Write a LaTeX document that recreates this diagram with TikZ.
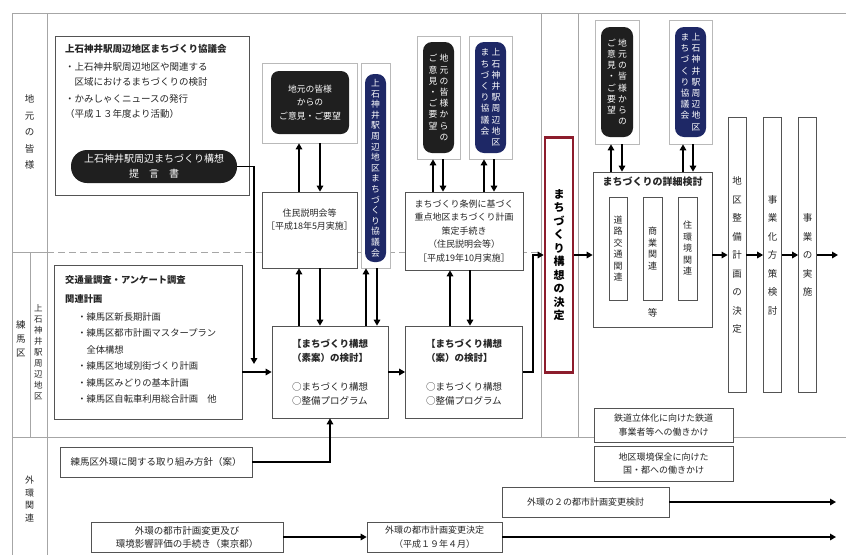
\documentclass[tikz,border=0pt]{standalone}
\usepackage{fontspec}
\setmainfont{Noto Sans CJK JP}
\usetikzlibrary{arrows.meta}
\definecolor{kyogiblue}{RGB}{30,40,102}
\definecolor{decidered}{RGB}{140,28,44}
\makeatletter
\newcommand\tate[2][11pt]{\vtop{\baselineskip=#1\lineskiplimit=-\maxdimen\@tfor\tatechar:=#2\do{\hbox to 1em{\hss\tatechar\hss}}}}
\makeatother

\begin{document}
\begin{tikzpicture}[x=1pt,y=-1pt,
	gridline/.style={draw=gray!70,line width=0.6pt},
	plainbox/.style={draw=gray!65!black,line width=0.7pt,fill=white,inner sep=0pt,align=center,text=black!85,font=\fontsize{9}{13.5}\selectfont},
	rimbox/.style={draw=gray!55,line width=0.7pt,fill=white,inner sep=0pt},
	blackpill/.style={fill=black!88,rounded corners=9pt,text=white,inner sep=0pt,align=center,font=\fontsize{8.8}{13.5}\selectfont},
	navypill/.style={blackpill,fill=kyogiblue},
	decidebox/.style={draw=decidered,line width=2.6pt,fill=white,inner sep=0pt,font=\bfseries\fontsize{11}{14}\selectfont},
	tallbox/.style={plainbox,minimum width=18pt,minimum height=275pt,font=\fontsize{9.5}{12}\selectfont},
	flowarrow/.style={line width=1.8pt,-{Triangle[length=6pt,width=6.5pt]}},
	lbl/.style={inner sep=0pt,text=black!85,font=\fontsize{9.5}{12}\selectfont}
	]
	\fill[white] (0,0) rectangle (846,555);
	\useasboundingbox (0,0) rectangle (846,555);
	
	\draw[gridline] (12,13) -- (846,13);
	\draw[gridline] (12,13) -- (12,555);
	\draw[gridline] (47,13) -- (47,555);
	\draw[gridline] (12,252) -- (47,252);
	\draw[gridline,dash pattern=on 7pt off 4pt] (47,252) -- (541,252);
	\draw[gridline] (30,252) -- (30,437);
	\draw[gridline] (12,437) -- (846,437);
	\draw[gridline] (541,13) -- (541,437);
	\draw[gridline] (578,13) -- (578,437);
	
	\node[lbl] (lbl-jimoto) at (29.5,132) {\tate[16.5pt]{地元の皆様}};
	\node[lbl] (lbl-nerima) at (21,339) {\tate[14pt]{練馬区}};
	\node[lbl,font=\fontsize{8.5}{11}\selectfont] (lbl-kamishaku) at (38.5,352) {\tate[11pt]{上石神井駅周辺地区}};
	\node[lbl,font=\fontsize{9}{11}\selectfont] (lbl-gaikan) at (29.5,499) {\tate[12.5pt]{外環関連}};
	
	% 地元の皆様
	\node[plainbox,minimum width=194pt,minimum height=159pt] (kyogikai) at (152,115.5) {};
	\node[lbl,anchor=north west,align=left,font=\fontsize{9.5}{15}\selectfont] (kyogikai-txt) at (65,44)
		{\textbf{上石神井駅周辺地区まちづくり協議会}\\[3pt]・上石神井駅周辺地区や関連する\\　区域におけるまちづくりの検討\\[2pt]・かみしゃくニュースの発行\\（平成１３年度より活動）};
	\node[blackpill,rounded corners=16pt,minimum width=166pt,minimum height=33pt,font=\fontsize{10}{15}\selectfont] (teigen) at (154,166.5)
		{上石神井駅周辺まちづくり構想\\提　言　書};
	\coordinate (teigen-end) at (254,364);
	
	\node[rimbox,minimum width=95pt,minimum height=80pt] (iken1) at (309.5,103) {};
	\node[blackpill,rounded corners=8pt,minimum width=78pt,minimum height=63pt] (iken1-pill) at (310,102.5) {地元の皆様\\からの\\ご意見・ご要望};
	\node[plainbox,minimum width=95pt,minimum height=76pt] (jumin) at (309.5,230) {住民説明会等\\［平成18年5月実施］\\[8pt]};
	\node[rimbox,minimum width=29pt,minimum height=205pt] (kyogi1) at (375.5,165.5) {};
	\node[navypill,minimum width=21pt,minimum height=188pt] (kyogi1-pill) at (375.5,168) {\tate[10.6pt]{上石神井駅周辺地区まちづくり協議会}};
	
	\node[rimbox,minimum width=43pt,minimum height=123pt] (iken2) at (438.5,97.5) {};
	\node[blackpill,minimum width=31pt,minimum height=111pt] (iken2-pill) at (438.5,97.5) {\tate[11.2pt]{ご意見・ご要望}\hspace{2pt}\tate[11.2pt]{地元の皆様からの}};
	\node[rimbox,minimum width=43pt,minimum height=123pt] (kyogi2) at (490.5,97.5) {};
	\node[navypill,minimum width=31pt,minimum height=111pt] (kyogi2-pill) at (490.5,97.5) {\tate[11.2pt]{まちづくり協議会}\hspace{2pt}\tate[11.2pt]{上石神井駅周辺地区}};
	\node[plainbox,minimum width=118pt,minimum height=78pt] (juten) at (464,231)
		{まちづくり条例に基づく\\重点地区まちづくり計画\\策定手続き\\（住民説明会等）\\［平成19年10月実施］};
	
	% 練馬区
	\node[plainbox,minimum width=188pt,minimum height=154pt] (kotsu) at (148,342) {};
	\node[lbl,anchor=north west,align=left,font=\fontsize{9.3}{16.5}\selectfont] (kotsu-txt) at (65,275)
		{\textbf{交通量調査・アンケート調査}\\[3pt]\textbf{関連計画}\\[1pt]
		\hspace*{1.3em}・練馬区新長期計画\\
		\hspace*{1.3em}・練馬区都市計画マスタープラン\\
		\hspace*{1.3em}　全体構想\\
		\hspace*{1.3em}・練馬区地域別街づくり計画\\
		\hspace*{1.3em}・練馬区みどりの基本計画\\
		\hspace*{1.3em}・練馬区自転車利用総合計画　他};
	\node[plainbox,align=left,minimum width=116pt,minimum height=92pt,font=\fontsize{9.5}{14}\selectfont] (soan) at (330,372)
		{\textbf{【まちづくり構想}\\\textbf{（素案）の検討】}\\[15pt]○まちづくり構想\\○整備プログラム};
	\node[plainbox,align=left,minimum width=117pt,minimum height=92pt,font=\fontsize{9.5}{14}\selectfont] (an) at (464,372)
		{\textbf{【まちづくり構想}\\\textbf{（案）の検討】}\\[15pt]○まちづくり構想\\○整備プログラム};
	
	\node[decidebox,minimum width=28pt,minimum height=235pt] (kettei) at (559,255) {\tate[13.5pt]{まちづくり構想の決定}};
	
	\node[rimbox,minimum width=44pt,minimum height=124pt] (iken3) at (617,82) {};
	\node[blackpill,minimum width=32pt,minimum height=110pt] (iken3-pill) at (617,82) {\tate[11.2pt]{ご意見・ご要望}\hspace{2pt}\tate[11.2pt]{地元の皆様からの}};
	\node[rimbox,minimum width=43pt,minimum height=124pt] (kyogi3) at (690.5,82) {};
	\node[navypill,minimum width=31pt,minimum height=110pt] (kyogi3-pill) at (690.5,82) {\tate[11.2pt]{まちづくり協議会}\hspace{2pt}\tate[11.2pt]{上石神井駅周辺地区}};
	
	\node[plainbox,minimum width=119pt,minimum height=155pt] (syosai) at (652.5,249.5) {};
	\node[lbl,anchor=north,font=\bfseries\fontsize{10}{12}\selectfont] (syosai-title) at (652.5,177) {まちづくりの詳細検討};
	\node[plainbox,minimum width=18pt,minimum height=103pt] (doro) at (618,248.5) {\tate[11.5pt]{道路交通関連}};
	\node[plainbox,minimum width=19pt,minimum height=103pt] (shogyo) at (652.5,248.5) {\tate[11.5pt]{商業関連}};
	\node[plainbox,minimum width=19pt,minimum height=103pt] (jukankyo) at (687.5,248.5) {\tate[11.5pt]{住環境関連}};
	\node[lbl] (syosai-etc) at (652.5,313) {等};
	
	\node[tallbox] (chiku) at (737,255) {\tate[18.5pt]{地区整備計画の決定}};
	\node[tallbox] (hosaku) at (772.5,255) {\tate[18.5pt]{事業化方策検討}};
	\node[tallbox] (jisshi) at (807.5,255) {\tate[18.5pt]{事業の実施}};
	\coordinate (out-main) at (838,255);
	
	% 外環関連
	\node[plainbox,minimum width=139pt,minimum height=34pt] (tetsudo) at (663.5,425) {鉄道立体化に向けた鉄道\\事業者等への働きかけ};
	\node[plainbox,minimum width=139pt,minimum height=35pt] (kankyo) at (663.5,463.5) {地区環境保全に向けた\\国・都への働きかけ};
	\node[plainbox,minimum width=192pt,minimum height=30pt,font=\fontsize{9.5}{13}\selectfont] (hoshin) at (156,462) {練馬区外環に関する取り組み方針（案）};
	\node[plainbox,minimum width=192pt,minimum height=30pt,font=\fontsize{9.5}{13}\selectfont] (tokei) at (187,537) {外環の都市計画変更及び\\環境影響評価の手続き（東京都）};
	\node[plainbox,minimum width=135pt,minimum height=30pt] (henko) at (434.5,537) {外環の都市計画変更決定\\（平成１９年４月）};
	\node[plainbox,minimum width=167pt,minimum height=30pt] (gaikan2) at (585.5,502) {外環の２の都市計画変更検討};
	\coordinate (out-gaikan2) at (836,502);
	\coordinate (out-henko) at (836,537);
	
	\draw[flowarrow] (teigen.east) -| (teigen-end);
	\draw[flowarrow] ([xshift=-10.5pt]jumin.north) -- ([xshift=-10.5pt]iken1.south);
	\draw[flowarrow] ([xshift=10.5pt]iken1.south) -- ([xshift=10.5pt]jumin.north);
	\draw[flowarrow] ([xshift=-31pt]soan.north) -- ([xshift=-10.5pt]jumin.south);
	\draw[flowarrow] ([xshift=10.5pt]jumin.south) -- ([xshift=-10pt]soan.north);
	\draw[flowarrow] ([xshift=36pt]soan.north) -- ([xshift=-9.5pt]kyogi1.south);
	\draw[flowarrow] ([xshift=1.5pt]kyogi1.south) -- ([xshift=47pt]soan.north);
	\draw[flowarrow] ([xshift=-31pt]juten.north) -- ([xshift=-5.5pt]iken2.south);
	\draw[flowarrow] ([xshift=4.5pt]iken2.south) -- ([xshift=-21pt]juten.north);
	\draw[flowarrow] ([xshift=20pt]juten.north) -- ([xshift=-6.5pt]kyogi2.south);
	\draw[flowarrow] ([xshift=3.5pt]kyogi2.south) -- ([xshift=30pt]juten.north);
	\draw[flowarrow] ([xshift=-14pt]an.north) -- ([xshift=-14pt]juten.south);
	\draw[flowarrow] ([xshift=6pt]juten.south) -- ([xshift=6pt]an.north);
	\draw[flowarrow] (kotsu.east |- soan.west) -- (soan.west);
	\draw[flowarrow] (soan) -- (an);
	\draw[flowarrow] (an.east) -- ++(10pt,0) |- (kettei.west);
	\draw[flowarrow] (kettei.east) -- (kettei.east -| syosai.west);
	\draw[flowarrow] ([xshift=-41.5pt]syosai.north) -- ([xshift=-6pt]iken3.south);
	\draw[flowarrow] ([xshift=5pt]iken3.south) -- ([xshift=-30.5pt]syosai.north);
	\draw[flowarrow] ([xshift=30.5pt]syosai.north) -- ([xshift=-7.5pt]kyogi3.south);
	\draw[flowarrow] ([xshift=2.5pt]kyogi3.south) -- ([xshift=40.5pt]syosai.north);
	\draw[flowarrow] (syosai.east |- chiku.west) -- (chiku.west);
	\draw[flowarrow] (chiku) -- (hosaku);
	\draw[flowarrow] (hosaku) -- (jisshi);
	\draw[flowarrow] (jisshi.east) -- (out-main);
	\draw[flowarrow] (hoshin.east) -| (soan.south);
	\draw[flowarrow] (tokei) -- (henko);
	\draw[flowarrow] (henko.east) -- (out-henko);
	\draw[flowarrow] (gaikan2.east) -- (out-gaikan2);
\end{tikzpicture}
\end{document}
